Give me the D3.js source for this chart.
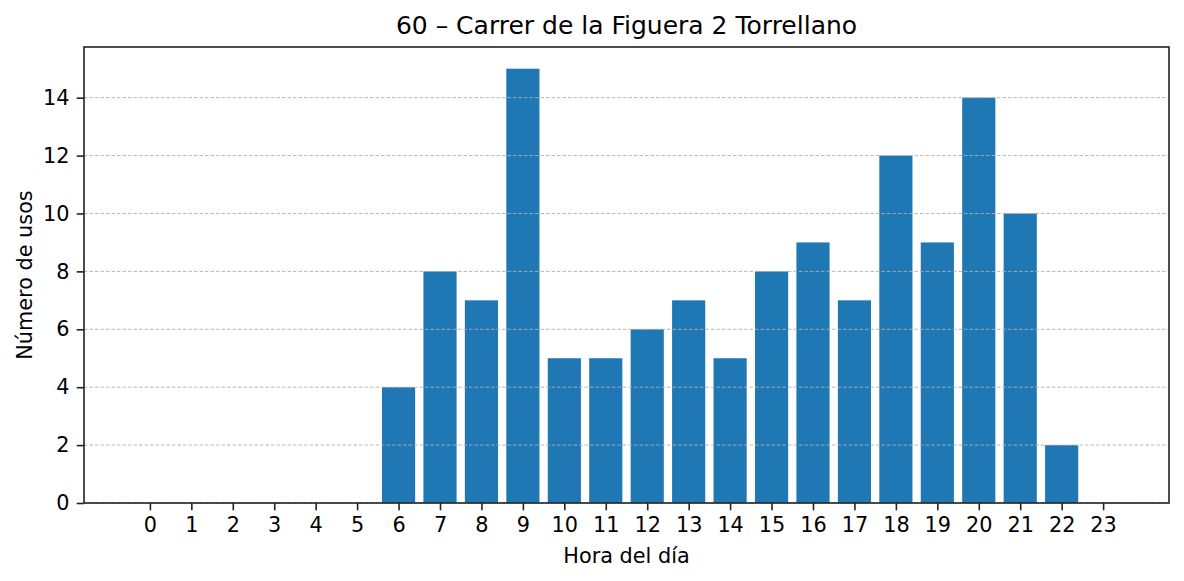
<!DOCTYPE html>
<html>
<head>
<meta charset="utf-8">
<script src="https://cdn.jsdelivr.net/npm/d3@7"></script>
<style>
  body { margin: 0; background: #fff; }
  svg text { font-family: "DejaVu Sans", sans-serif; fill: #000; }
</style>
</head>
<body>
<div id="chart"></div>
<script>
// data
var hours = [0,1,2,3,4,5,6,7,8,9,10,11,12,13,14,15,16,17,18,19,20,21,22,23];
var usos  = [0,0,0,0,0,0,4,8,7,15,5,5,6,7,5,8,9,7,12,9,14,10,2,0];
var yTicks = [0,2,4,6,8,10,12,14];
var title = "60 \u2013 Carrer de la Figuera 2 Torrellano";

var svgWidth = 1184, svgHeight = 581;
var margin = {top: 47, right: 15, bottom: 78, left: 84};
var width = svgWidth - margin.left - margin.right;
var height = svgHeight - margin.top - margin.bottom;

var svg = d3.select("#chart").append("svg")
  .attr("width", svgWidth)
  .attr("height", svgHeight);

var chartGroup = svg.append("g")
  .attr("transform", `translate(${margin.left}, ${margin.top})`);

// matplotlib-like limits: bars of width 0.8, 5% margins
var xPad = (23.8) * 0.05;
var xLinearScale = d3.scaleLinear()
  .domain([-0.4 - xPad, 23.4 + xPad])
  .range([0, width]);

var yLinearScale = d3.scaleLinear()
  .domain([0, d3.max(usos) * 1.05])
  .range([height, 0]);

// bars
chartGroup.selectAll("rect.bar")
  .data(hours)
  .enter()
  .append("rect")
  .attr("class", "bar")
  .attr("x", d => xLinearScale(d - 0.4))
  .attr("width", d => xLinearScale(d + 0.4) - xLinearScale(d - 0.4))
  .attr("y", (d, i) => yLinearScale(usos[i]))
  .attr("height", (d, i) => height - yLinearScale(usos[i]))
  .attr("fill", "#1f77b4");

// grid on top of the bars
chartGroup.append("g").selectAll("line")
  .data(yTicks)
  .enter()
  .append("line")
  .attr("x1", 0)
  .attr("x2", width)
  .attr("y1", d => yLinearScale(d))
  .attr("y2", d => yLinearScale(d))
  .attr("stroke", "#b0b0b0")
  .attr("stroke-width", 0.9)
  .attr("stroke-dasharray", "3.5,2");

// axes
var bottomAxis = d3.axisBottom(xLinearScale).tickValues(hours).tickFormat(d3.format("d"))
  .tickSizeOuter(0).tickSize(7.3).tickPadding(7.3);
var leftAxis = d3.axisLeft(yLinearScale).tickValues(yTicks)
  .tickSizeOuter(0).tickSize(7.3).tickPadding(7.3);

var xAxis = chartGroup.append("g")
  .attr("transform", `translate(0, ${height})`)
  .call(bottomAxis);
var yAxis = chartGroup.append("g").call(leftAxis);

[xAxis, yAxis].forEach(function(ax) {
  ax.select(".domain").remove();
  ax.selectAll("line").attr("stroke", "#222").attr("stroke-width", 1.6);
  ax.selectAll("text").attr("font-size", "20.8px").attr("fill", "#000")
    .style("font-family", "DejaVu Sans, sans-serif");
});

// frame
chartGroup.append("rect")
  .attr("width", width)
  .attr("height", height)
  .attr("fill", "none")
  .attr("stroke", "#222")
  .attr("stroke-width", 1.6);

// title and labels
svg.append("text")
  .attr("x", margin.left + width / 2)
  .attr("y", 34)
  .attr("text-anchor", "middle")
  .attr("font-size", "25px")
  .text(title);

svg.append("text")
  .attr("x", margin.left + width / 2)
  .attr("y", 563)
  .attr("text-anchor", "middle")
  .attr("font-size", "20.8px")
  .text("Hora del d\u00eda");

svg.append("text")
  .attr("transform", `translate(32, ${margin.top + height / 2}) rotate(-90)`)
  .attr("text-anchor", "middle")
  .attr("font-size", "20.8px")
  .text("N\u00famero de usos");
</script>
</body>
</html>
